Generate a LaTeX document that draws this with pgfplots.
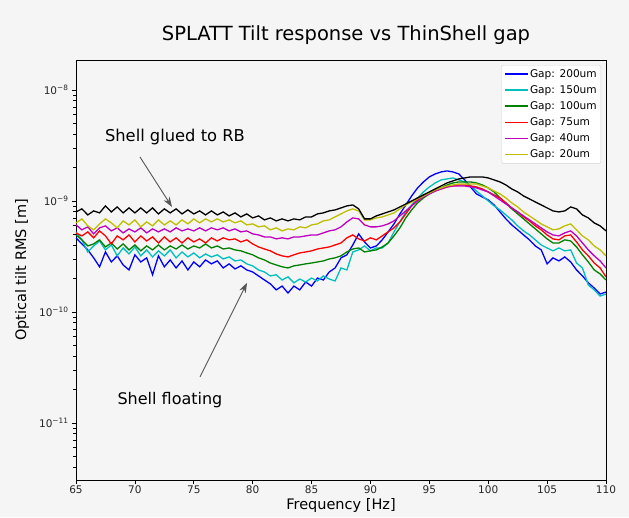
\documentclass[border=0pt]{standalone}
\usepackage{pgfplots}
\pgfplotsset{compat=1.18}
\usepackage{pgfplotstable}
\usepackage{fontspec}
\setmainfont{DejaVu Sans}
\usetikzlibrary{arrows.meta}
\definecolor{bg}{RGB}{245,245,245}
\definecolor{mplb}{rgb}{0,0,1}
\definecolor{mplc}{rgb}{0,0.75,0.75}
\definecolor{mplg}{rgb}{0,0.5,0}
\definecolor{mplr}{rgb}{1,0,0}
\definecolor{mplm}{rgb}{0.75,0,0.75}
\definecolor{mply}{rgb}{0.75,0.75,0}
\definecolor{arrowgray}{RGB}{85,85,85}
\definecolor{legframe}{RGB}{210,210,210}

\pgfplotstableread{
f b c g r m y k
65 4.65e-10 5.26e-10 4.94e-10 5.15e-10 6.08e-10 6.34e-10 7.96e-10
65.5 4.10e-10 4.46e-10 4.46e-10 4.84e-10 5.49e-10 6.89e-10 8.48e-10
66 3.62e-10 3.47e-10 3.93e-10 5.26e-10 5.84e-10 5.96e-10 7.48e-10
66.5 3.07e-10 3.93e-10 4.10e-10 4.65e-10 5.05e-10 5.49e-10 8.13e-10
67 2.55e-10 4.36e-10 4.46e-10 5.37e-10 5.72e-10 6.21e-10 7.80e-10
67.5 3.47e-10 3.62e-10 3.85e-10 4.84e-10 5.96e-10 6.89e-10 9.02e-10
68 2.82e-10 4.01e-10 4.18e-10 4.10e-10 5.37e-10 6.34e-10 7.96e-10
68.5 3.20e-10 3.20e-10 3.69e-10 4.84e-10 5.72e-10 5.72e-10 8.83e-10
69 2.65e-10 3.77e-10 4.10e-10 4.46e-10 5.15e-10 6.61e-10 7.80e-10
69.5 2.39e-10 3.33e-10 3.62e-10 4.94e-10 5.60e-10 6.08e-10 8.65e-10
70 3.27e-10 3.85e-10 4.01e-10 4.27e-10 5.26e-10 6.75e-10 7.80e-10
70.5 2.82e-10 3.20e-10 3.55e-10 4.84e-10 5.72e-10 5.84e-10 8.65e-10
71 3.07e-10 3.62e-10 3.93e-10 4.36e-10 5.15e-10 6.47e-10 7.80e-10
71.5 2.16e-10 3.13e-10 3.62e-10 4.74e-10 5.60e-10 5.96e-10 8.65e-10
72 3.20e-10 3.55e-10 4.01e-10 4.18e-10 5.26e-10 6.75e-10 7.64e-10
72.5 2.55e-10 3.20e-10 3.62e-10 4.74e-10 5.60e-10 6.08e-10 8.48e-10
73 2.94e-10 3.62e-10 3.93e-10 4.27e-10 5.26e-10 6.61e-10 7.80e-10
73.5 2.49e-10 3.07e-10 3.69e-10 4.65e-10 5.72e-10 6.08e-10 8.48e-10
74 2.88e-10 3.47e-10 4.01e-10 4.18e-10 5.37e-10 6.75e-10 7.64e-10
74.5 2.39e-10 3.13e-10 3.69e-10 4.65e-10 5.60e-10 6.21e-10 8.30e-10
75 2.82e-10 3.40e-10 3.93e-10 4.27e-10 5.37e-10 6.89e-10 7.64e-10
75.5 2.55e-10 3.07e-10 3.77e-10 4.55e-10 5.72e-10 6.34e-10 8.13e-10
76 2.94e-10 3.33e-10 4.10e-10 4.18e-10 5.37e-10 6.89e-10 7.48e-10
76.5 2.71e-10 3.13e-10 3.77e-10 4.65e-10 5.72e-10 6.47e-10 8.13e-10
77 2.88e-10 3.27e-10 3.93e-10 4.36e-10 5.49e-10 6.89e-10 7.48e-10
77.5 2.49e-10 3.00e-10 3.69e-10 4.65e-10 5.72e-10 6.47e-10 7.96e-10
78 2.71e-10 3.13e-10 3.77e-10 4.46e-10 5.37e-10 6.75e-10 7.33e-10
78.5 2.44e-10 2.88e-10 3.62e-10 4.55e-10 5.60e-10 6.34e-10 7.80e-10
79 2.60e-10 2.94e-10 3.55e-10 4.27e-10 5.26e-10 6.61e-10 7.18e-10
79.5 2.39e-10 2.71e-10 3.40e-10 4.46e-10 5.37e-10 6.08e-10 7.64e-10
80 2.29e-10 2.60e-10 3.27e-10 4.10e-10 5.05e-10 6.21e-10 7.03e-10
80.5 2.11e-10 2.39e-10 3.07e-10 3.85e-10 4.94e-10 5.84e-10 7.33e-10
81 1.94e-10 2.29e-10 2.94e-10 3.69e-10 4.74e-10 5.96e-10 6.75e-10
81.5 1.79e-10 2.11e-10 2.76e-10 3.55e-10 4.74e-10 5.49e-10 7.03e-10
82 1.58e-10 2.16e-10 2.65e-10 3.33e-10 4.55e-10 5.72e-10 6.61e-10
82.5 1.71e-10 1.94e-10 2.55e-10 3.20e-10 4.65e-10 5.37e-10 6.89e-10
83 1.48e-10 2.07e-10 2.49e-10 3.13e-10 4.55e-10 5.60e-10 6.61e-10
83.5 1.71e-10 1.83e-10 2.60e-10 3.27e-10 4.74e-10 5.49e-10 6.89e-10
84 1.58e-10 1.98e-10 2.65e-10 3.40e-10 4.74e-10 5.84e-10 6.75e-10
84.5 1.86e-10 1.86e-10 2.71e-10 3.47e-10 4.84e-10 5.72e-10 7.18e-10
85 1.71e-10 2.02e-10 2.76e-10 3.55e-10 4.94e-10 6.08e-10 7.18e-10
85.5 2.02e-10 1.90e-10 2.82e-10 3.69e-10 4.94e-10 6.21e-10 7.64e-10
86 1.94e-10 2.11e-10 2.88e-10 3.77e-10 5.15e-10 6.61e-10 7.80e-10
86.5 2.29e-10 1.98e-10 3.00e-10 3.85e-10 5.37e-10 6.75e-10 8.13e-10
87 2.49e-10 1.90e-10 3.07e-10 4.01e-10 5.49e-10 7.18e-10 8.30e-10
87.5 3.07e-10 2.49e-10 3.20e-10 4.18e-10 5.84e-10 7.64e-10 8.65e-10
88 3.27e-10 2.39e-10 3.47e-10 4.65e-10 6.47e-10 8.13e-10 9.02e-10
88.5 4.01e-10 3.47e-10 3.69e-10 4.94e-10 7.03e-10 8.48e-10 9.20e-10
89 5.05e-10 3.62e-10 3.77e-10 4.55e-10 6.89e-10 8.13e-10 8.48e-10
89.5 4.27e-10 3.93e-10 3.47e-10 4.36e-10 6.08e-10 6.75e-10 6.89e-10
90 3.77e-10 3.55e-10 3.55e-10 4.65e-10 5.84e-10 6.75e-10 6.89e-10
90.5 3.93e-10 3.77e-10 3.62e-10 4.46e-10 5.84e-10 7.03e-10 7.33e-10
91 4.46e-10 3.77e-10 3.85e-10 4.84e-10 5.96e-10 7.18e-10 7.64e-10
91.5 5.26e-10 4.18e-10 4.18e-10 5.26e-10 6.21e-10 7.48e-10 7.96e-10
92 6.21e-10 5.26e-10 4.84e-10 5.72e-10 6.61e-10 7.80e-10 8.30e-10
92.5 7.64e-10 6.47e-10 5.72e-10 6.47e-10 7.33e-10 8.48e-10 8.83e-10
93 9.20e-10 7.96e-10 7.03e-10 7.64e-10 8.13e-10 9.20e-10 9.39e-10
93.5 11.09e-10 9.20e-10 8.30e-10 9.02e-10 9.02e-10 9.79e-10 10.00e-10
94 13.09e-10 10.64e-10 9.59e-10 10.21e-10 10.00e-10 10.42e-10 10.64e-10
94.5 14.83e-10 12.05e-10 10.64e-10 11.32e-10 10.86e-10 11.09e-10 11.32e-10
95 16.45e-10 13.37e-10 11.56e-10 11.80e-10 11.56e-10 11.80e-10 12.05e-10
95.5 17.51e-10 14.52e-10 12.30e-10 12.30e-10 12.30e-10 12.56e-10 12.82e-10
96 18.25e-10 15.46e-10 13.09e-10 12.82e-10 12.82e-10 13.09e-10 13.64e-10
96.5 18.64e-10 15.78e-10 13.93e-10 13.37e-10 13.37e-10 13.64e-10 14.52e-10
97 18.25e-10 16.11e-10 14.52e-10 13.64e-10 13.64e-10 13.93e-10 15.14e-10
97.5 17.51e-10 15.46e-10 14.83e-10 13.93e-10 13.64e-10 14.22e-10 15.78e-10
98 15.46e-10 14.83e-10 14.83e-10 13.93e-10 13.64e-10 14.22e-10 16.11e-10
98.5 13.37e-10 13.64e-10 14.83e-10 13.64e-10 13.37e-10 14.22e-10 16.45e-10
99 11.56e-10 12.30e-10 14.52e-10 13.37e-10 13.09e-10 14.22e-10 16.45e-10
99.5 10.86e-10 11.09e-10 13.93e-10 12.82e-10 12.56e-10 13.64e-10 16.45e-10
100 10.21e-10 10.00e-10 13.09e-10 12.05e-10 12.05e-10 13.09e-10 16.11e-10
100.5 9.20e-10 9.02e-10 12.05e-10 11.32e-10 11.09e-10 12.30e-10 15.46e-10
101 7.96e-10 8.30e-10 10.64e-10 10.64e-10 10.21e-10 11.56e-10 14.83e-10
101.5 6.89e-10 7.48e-10 9.59e-10 9.59e-10 9.39e-10 10.64e-10 13.93e-10
102 6.08e-10 6.75e-10 8.48e-10 8.65e-10 8.65e-10 9.59e-10 12.82e-10
102.5 5.49e-10 5.96e-10 7.64e-10 7.96e-10 7.96e-10 8.83e-10 12.05e-10
103 4.94e-10 5.37e-10 6.89e-10 7.18e-10 7.33e-10 7.96e-10 11.09e-10
103.5 4.46e-10 4.94e-10 6.21e-10 6.61e-10 6.75e-10 7.33e-10 10.42e-10
104 3.93e-10 4.46e-10 5.60e-10 5.96e-10 6.21e-10 6.75e-10 9.79e-10
104.5 3.62e-10 4.01e-10 5.05e-10 5.49e-10 5.72e-10 6.21e-10 9.20e-10
105 2.71e-10 3.77e-10 4.55e-10 4.94e-10 5.26e-10 5.84e-10 8.65e-10
105.5 3.07e-10 3.55e-10 4.18e-10 4.55e-10 4.94e-10 5.49e-10 8.13e-10
106 2.88e-10 3.77e-10 4.18e-10 4.46e-10 4.84e-10 5.60e-10 7.96e-10
106.5 3.13e-10 3.55e-10 4.46e-10 4.84e-10 5.15e-10 5.96e-10 8.13e-10
107 2.82e-10 3.62e-10 4.36e-10 4.94e-10 5.37e-10 6.21e-10 8.83e-10
107.5 2.39e-10 2.76e-10 3.85e-10 4.27e-10 4.84e-10 5.49e-10 8.48e-10
108 2.11e-10 2.49e-10 3.27e-10 3.62e-10 4.18e-10 4.84e-10 7.48e-10
108.5 1.83e-10 1.75e-10 2.82e-10 3.20e-10 3.62e-10 4.46e-10 7.03e-10
109 1.64e-10 1.58e-10 2.39e-10 2.76e-10 3.20e-10 3.93e-10 6.34e-10
109.5 1.45e-10 1.39e-10 2.20e-10 2.49e-10 2.88e-10 3.62e-10 5.96e-10
110 1.51e-10 1.45e-10 1.94e-10 2.07e-10 2.49e-10 3.20e-10 5.37e-10
}\data

\begin{document}
\begin{tikzpicture}
\fill[bg] (0,0) rectangle (629pt,517pt);
\begin{axis}[
  at={(76pt,37pt)}, anchor=south west,
  scale only axis, width=530pt, height=420pt,
  xmin=65, xmax=110, ymode=log, ymin=3.06e-12, ymax=1.86e-8,
  axis background/.style={fill=bg},
  axis line style={black, line width=0.8pt},
  xtick={65,70,...,110},
  ytick={1e-11,1e-10,1e-9,1e-8},
  yticklabels={10\textsuperscript{−11},10\textsuperscript{−10},10\textsuperscript{−9},10\textsuperscript{−8}},
  minor ytick={4e-12,5e-12,6e-12,7e-12,8e-12,9e-12,2e-11,3e-11,4e-11,5e-11,6e-11,7e-11,8e-11,9e-11,2e-10,3e-10,4e-10,5e-10,6e-10,7e-10,8e-10,9e-10,2e-9,3e-9,4e-9,5e-9,6e-9,7e-9,8e-9,9e-9},
  /pgf/number format/assume math mode=true,
  tick align=outside, tick pos=left,
  major tick length=4pt, minor tick length=2.5pt,
  every tick/.style={black, line width=0.7pt},
  ticklabel style={font=\fontsize{10.5}{12}\selectfont, text=black!85},
  xticklabel style={inner sep=1.5pt},
  every axis x label/.style={at={(axis description cs:0.5,0)}, anchor=center, yshift=-25pt},
  every axis y label/.style={at={(axis description cs:0,0.5)}, anchor=center, rotate=90, yshift=54pt},
  label style={font=\fontsize{14.5}{16}\selectfont},
  xlabel={Frequency [Hz]},
  ylabel={Optical tilt RMS [m]},
  title={SPLATT Tilt response vs ThinShell gap},
  every axis title/.style={at={(axis description cs:0.5,1)}, anchor=center, yshift=25pt, xshift=5pt, font=\fontsize{19.5}{22}\selectfont},
  legend style={at={(1,1)}, anchor=north east, xshift=-5pt, yshift=-5pt, draw=legframe, fill=white, rounded corners=2pt, font=\fontsize{10.6}{12}\selectfont, row sep=3.8pt, inner sep=2.5pt, nodes={inner sep=1.5pt}},
  legend cell align=left,
  legend image code/.code={\draw[#1, draw=., line width=1.5pt, rounded corners=0pt] (0pt,0pt) -- (23pt,0pt);},
  every axis plot/.append style={line width=1.3pt},
]
\addplot[mplb] table[x=f, y=b] {\data};
\addlegendentry{Gap: 200um}
\addplot[mplc] table[x=f, y=c] {\data};
\addlegendentry{Gap: 150um}
\addplot[mplg] table[x=f, y=g] {\data};
\addlegendentry{Gap: 100um}
\addplot[mplr] table[x=f, y=r] {\data};
\addlegendentry{Gap: 75um}
\addplot[mplm] table[x=f, y=m] {\data};
\addlegendentry{Gap: 40um}
\addplot[mply] table[x=f, y=y] {\data};
\addlegendentry{Gap: 20um}
\addplot[black, forget plot] table[x=f, y=k] {\data};

\draw[-{Stealth[length=10pt,width=7pt]}, arrowgray, line width=0.9pt] (axis cs:70.43,2.49e-9) -- (axis cs:73.15,8.83e-10);
\node[font=\fontsize{16.3}{18}\selectfont] at (axis cs:73.4,3.77e-9) {Shell glued to RB};
\draw[-{Stealth[length=10pt,width=7pt]}, arrowgray, line width=0.9pt] (axis cs:75.53,2.6e-11) -- (axis cs:79.52,1.83e-10);
\node[font=\fontsize{16}{18}\selectfont] at (axis cs:72.98,1.61e-11) {Shell floating};
\end{axis}
\pgfresetboundingbox
\useasboundingbox (0,0) rectangle (629pt,517pt);
\end{tikzpicture}
\end{document}
